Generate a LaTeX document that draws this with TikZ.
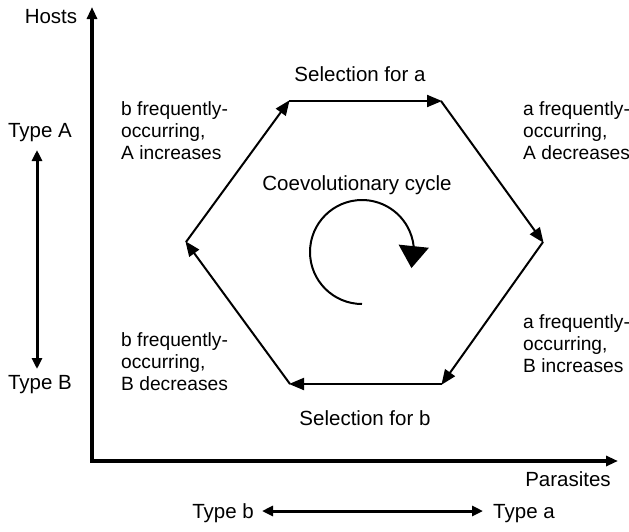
\documentclass[tikz,border=0pt]{standalone}
\usepackage{fontspec}
\setmainfont{Liberation Sans}
\usetikzlibrary{arrows.meta,bending}
\begin{document}
\begin{tikzpicture}[x=1pt,y=-1pt,
  txt/.style={inner sep=0pt,font=\fontsize{20.5}{22}\selectfont},
  lbl/.style={inner sep=0pt,font=\fontsize{19.2}{22}\selectfont,align=left,anchor=west},
  axis/.style={line width=3.4pt,-{Triangle[length=12pt,width=10pt]}},
  edge/.style={line width=2pt,-{Triangle[length=15pt,width=12pt]},shorten >=-1pt},
  dbl/.style={line width=3pt,{Triangle[length=11pt,width=10pt]}-{Triangle[length=11pt,width=10pt]}}]
\useasboundingbox (0,0) rectangle (629,531);
% axes
\coordinate (O) at (92,461);
\coordinate (ytip) at (92,7);
\coordinate (xtip) at (618,461);
\draw[axis] ([yshift=-1.7pt]O) -- (ytip);
\draw[axis] ([xshift=-1.7pt]O) -- (xtip);
\node[txt,anchor=base] (hosts) at (51,23) {Hosts};
\node[txt,anchor=base] (para) at (568,486) {Parasites};
% host types
\node[txt,anchor=base] (tA) at (40,137) {Type A};
\node[txt,anchor=base] (tB) at (40,389) {Type B};
\coordinate (vA) at (37,150);
\coordinate (vB) at (37,369);
\draw[dbl] (vA) -- (vB);
% parasite types
\node[txt,anchor=base east] (tb) at (254,518) {Type b};
\node[txt,anchor=base west] (ta) at (493,518) {Type a};
\coordinate (hb) at (262,511);
\coordinate (ha) at (483,511);
\draw[dbl] (hb) -- (ha);
% hexagon
\coordinate (TL) at (289,101);
\coordinate (TR) at (441,101);
\coordinate (R) at (543,242);
\coordinate (BR) at (442,384);
\coordinate (BL) at (290,384);
\coordinate (L) at (186,242);
\draw[edge] (TL) -- (TR);
\draw[edge] (TR) -- (R);
\draw[edge] (R) -- (BR);
\draw[edge] (BR) -- (BL);
\draw[edge] (BL) -- (L);
\draw[edge] (L) -- (TL);
% labels
\node[txt,anchor=base] (sa) at (360,81) {Selection for a};
\node[txt,anchor=base] (sb) at (365,425) {Selection for b};
\node[txt,anchor=base] (cc) at (357,190) {Coevolutionary cycle};
\node[lbl] (l1) at (121,131) {b frequently-\\occurring,\\A increases};
\node[lbl] (l2) at (523,131) {a frequently-\\occurring,\\A decreases};
\node[lbl] (l3) at (121,362) {b frequently-\\occurring,\\B decreases};
\node[lbl] (l4) at (523,344) {a frequently-\\occurring,\\B increases};
% cycle arrow
\coordinate (cyc) at (362,252);
\draw[line width=2pt,-{Triangle[length=22pt,width=30pt,flex]}] ([shift={(0,52)}]cyc) arc[start angle=270,end angle=-18,radius=52pt];
\end{tikzpicture}
\end{document}
